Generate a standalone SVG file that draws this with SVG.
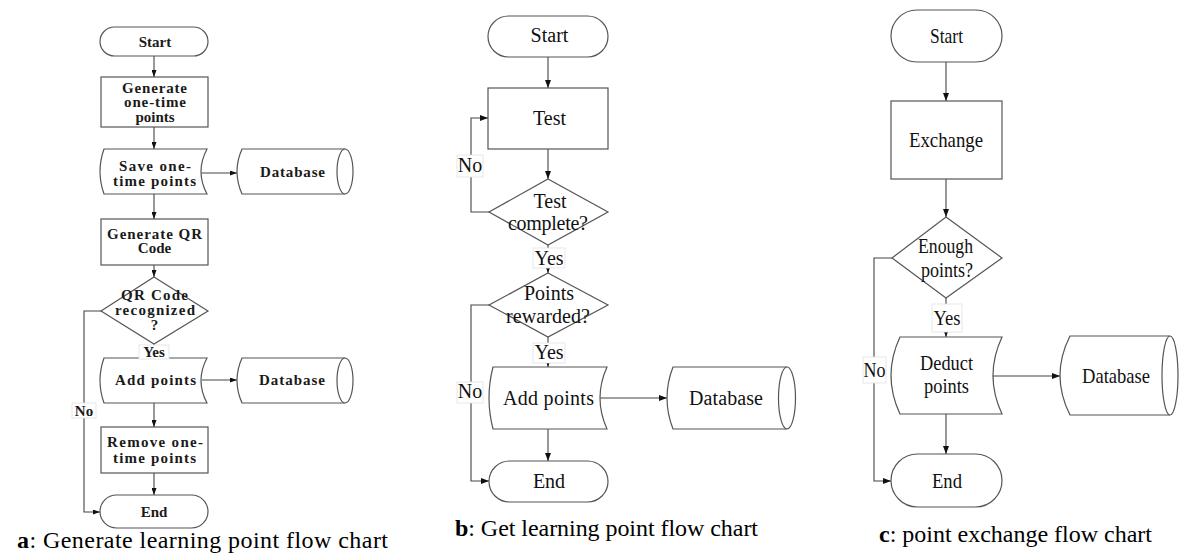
<svg xmlns="http://www.w3.org/2000/svg" width="1180" height="557" viewBox="0 0 1180 557">
<defs>
<style>
.shp{fill:#fff;stroke:#555;stroke-width:1.2}
.con{fill:none;stroke:#444;stroke-width:1.1}
.lbl{fill:#fff;stroke:#e2e2e2;stroke-width:0.8}
text{font-family:'Liberation Serif','DejaVu Serif',serif}
.ta{font-weight:bold;font-size:15px;fill:#1a1a1a;text-anchor:middle}
.tb{font-size:20px;fill:#111;text-anchor:middle}
.tc{font-size:22px;fill:#111;text-anchor:middle}
.cap{font-size:24px;fill:#000}
</style>
<marker id="ah" viewBox="0 0 8 6" refX="8" refY="3" markerWidth="8" markerHeight="6" markerUnits="userSpaceOnUse" orient="auto"><path d="M0,0 L8,3 L0,6 Z" fill="#111"/></marker>
<marker id="ahs" viewBox="0 0 7 5" refX="7" refY="2.5" markerWidth="7" markerHeight="5" markerUnits="userSpaceOnUse" orient="auto"><path d="M0,0 L7,2.5 L0,5 Z" fill="#111"/></marker>
</defs>

<g id="connectors">
<path class="con" marker-end="url(#ahs)" d="M154,56 V77"/>
<path class="con" marker-end="url(#ahs)" d="M154,127 V149"/>
<path class="con" marker-end="url(#ahs)" d="M154,194 V219"/>
<path class="con" marker-end="url(#ahs)" d="M202,173 H237"/>
<path class="con" marker-end="url(#ahs)" d="M154,265 V277"/>
<path class="con" marker-end="url(#ahs)" d="M154,344 V358"/>
<path class="con" marker-end="url(#ahs)" d="M202,380 H237"/>
<path class="con" marker-end="url(#ahs)" d="M154,403 V427"/>
<path class="con" marker-end="url(#ahs)" d="M154,473 V495"/>
<path class="con" marker-end="url(#ahs)" d="M101,311 H84 V512 H100"/>

<path class="con" marker-end="url(#ah)" d="M548,57 V88"/>
<path class="con" marker-end="url(#ah)" d="M548,149 V179"/>
<path class="con" marker-end="url(#ah)" d="M489,212 H471 V118 H488"/>
<path class="con" marker-end="url(#ah)" d="M548,245 V273"/>
<path class="con" marker-end="url(#ah)" d="M548,337 V367"/>
<path class="con" marker-end="url(#ah)" d="M489,305 H471 V481 H489"/>
<path class="con" marker-end="url(#ah)" d="M600,398 H667"/>
<path class="con" marker-end="url(#ah)" d="M548,429 V461"/>

<path class="con" marker-end="url(#ah)" d="M946,62 V101"/>
<path class="con" marker-end="url(#ah)" d="M946,179 V217"/>
<path class="con" marker-end="url(#ah)" d="M946,298 V337"/>
<path class="con" marker-end="url(#ah)" d="M892,258 H874 V481 H891"/>
<path class="con" marker-end="url(#ah)" d="M993,376 H1060"/>
<path class="con" marker-end="url(#ah)" d="M946,414 V454"/>
</g>

<!-- Chart a -->
<g id="a-start"><rect class="shp" x="100" y="27" width="108" height="29" rx="14.5"/><text class="ta" x="155" y="47">Start</text></g>
<g id="a-generate"><rect class="shp" x="101" y="77" width="107" height="50"/><text class="ta" x="154.5" y="93" textLength="65">Generate</text><text class="ta" x="155" y="107" textLength="62">one-time</text><text class="ta" x="155" y="122">points</text></g>
<g id="a-save"><path class="shp" d="M104,149 L207,149 Q195,171.5 207,194 L104,194 Q96,171.5 104,149 Z"/><text class="ta" x="155" y="171" textLength="72">Save one-</text><text class="ta" x="154.5" y="186" textLength="83">time points</text></g>
<g id="a-db1"><path class="shp" d="M242,149 L345,149 A8,22.5 0 0 1 345,194 L242,194 Q232,171.5 242,149 Z"/><path class="shp" fill="none" d="M345,149 A8,22.5 0 0 0 345,194"/><text class="ta" x="292.5" y="177" textLength="65">Database</text></g>
<g id="a-qr"><rect class="shp" x="101" y="219" width="107" height="46"/><text class="ta" x="154.5" y="239" textLength="95">Generate QR</text><text class="ta" x="154.5" y="253">Code</text></g>
<g id="a-decision"><polygon class="shp" points="154,277 208,311 154,344 101,311"/><text class="ta" x="154.5" y="300" textLength="67">QR Code</text><text class="ta" x="155" y="315" textLength="80">recognized</text><text class="ta" x="154.5" y="330">?</text></g>
<g id="a-add"><path class="shp" d="M104,358 L207,358 Q195,380.5 207,403 L104,403 Q96,380.5 104,358 Z"/><text class="ta" x="155.5" y="385" textLength="81">Add points</text></g>
<g id="a-db2"><path class="shp" d="M242,358 L345,358 A8,22.5 0 0 1 345,403 L242,403 Q232,380.5 242,358 Z"/><path class="shp" fill="none" d="M345,358 A8,22.5 0 0 0 345,403"/><text class="ta" x="292" y="385" textLength="66">Database</text></g>
<g id="a-remove"><rect class="shp" x="101" y="427" width="107" height="46"/><text class="ta" x="155" y="447" textLength="96">Remove one-</text><text class="ta" x="154.5" y="463" textLength="83">time points</text></g>
<g id="a-end"><rect class="shp" x="100" y="495" width="108" height="33" rx="16.5"/><text class="ta" x="154" y="517">End</text></g>
<g id="a-labels"><rect class="lbl" x="139" y="345" width="30" height="14"/><text class="ta" x="154" y="357">Yes</text><rect class="lbl" x="72" y="403" width="24" height="15"/><text class="ta" x="84" y="416">No</text></g>

<!-- Chart b -->
<g id="b-start"><rect class="shp" x="488" y="16" width="120" height="41" rx="20.5"/><text class="tb" x="549.5" y="42">Start</text></g>
<g id="b-test"><rect class="shp" x="488" y="88" width="120" height="61"/><text class="tb" x="549.5" y="125">Test</text></g>
<g id="b-complete"><polygon class="shp" points="548,179 608,212 548,245 489,212"/><text class="tb" x="550" y="208">Test</text><text class="tb" x="548" y="230" textLength="80">complete?</text></g>
<g id="b-rewarded"><polygon class="shp" points="548,273 608,305 548,337 489,305"/><text class="tb" x="549" y="300">Points</text><text class="tb" x="548" y="323" textLength="84">rewarded?</text></g>
<g id="b-add"><path class="shp" d="M493,367 L607,367 Q593,398 607,429 L493,429 Q485,398 493,367 Z"/><text class="tb" x="548.5" y="405" textLength="91">Add points</text></g>
<g id="b-db"><path class="shp" d="M673,367 L787,367 A8.5,31 0 0 1 787,429 L673,429 Q661,398 673,367 Z"/><path class="shp" fill="none" d="M787,367 A8.5,31 0 0 0 787,429"/><text class="tb" x="726" y="405" textLength="74">Database</text></g>
<g id="b-end"><rect class="shp" x="489" y="461" width="119" height="41" rx="20.5"/><text class="tb" x="549" y="488">End</text></g>
<g id="b-labels"><rect class="lbl" x="457" y="155" width="26" height="22"/><text class="tb" x="470" y="172">No</text><rect class="lbl" x="533" y="248" width="32" height="20"/><text class="tb" x="549" y="265">Yes</text><rect class="lbl" x="533" y="343" width="32" height="20"/><text class="tb" x="549" y="359">Yes</text><rect class="lbl" x="457" y="382" width="26" height="21"/><text class="tb" x="470" y="398">No</text></g>

<!-- Chart c -->
<g id="c-start"><rect class="shp" x="891" y="10" width="111" height="52" rx="26"/><text class="tc" x="946.5" y="43" textLength="33" lengthAdjust="spacingAndGlyphs">Start</text></g>
<g id="c-exchange"><rect class="shp" x="891" y="101" width="111" height="78"/><text class="tc" x="946" y="147" textLength="74" lengthAdjust="spacingAndGlyphs">Exchange</text></g>
<g id="c-enough"><polygon class="shp" points="946,217 1002,258 946,298 892,258"/><text class="tc" x="945.5" y="253" textLength="55" lengthAdjust="spacingAndGlyphs">Enough</text><text class="tc" x="947" y="277" textLength="52" lengthAdjust="spacingAndGlyphs">points?</text></g>
<g id="c-deduct"><path class="shp" d="M900,337 L1002,337 Q984,375.5 1002,414 L900,414 Q882,375.5 900,337 Z"/><text class="tc" x="946.5" y="370" textLength="53" lengthAdjust="spacingAndGlyphs">Deduct</text><text class="tc" x="946.5" y="393" textLength="45" lengthAdjust="spacingAndGlyphs">points</text></g>
<g id="c-db"><path class="shp" d="M1070,336 L1170,336 A8,39.5 0 0 1 1170,415 L1070,415 Q1050,375.5 1070,336 Z"/><path class="shp" fill="none" d="M1170,336 A8,39.5 0 0 0 1170,415"/><text class="tc" x="1116" y="383" textLength="68" lengthAdjust="spacingAndGlyphs">Database</text></g>
<g id="c-end"><rect class="shp" x="891" y="454" width="111" height="53" rx="26.5"/><text class="tc" x="947" y="488" textLength="30" lengthAdjust="spacingAndGlyphs">End</text></g>
<g id="c-labels"><rect class="lbl" x="932" y="304" width="30" height="28"/><text class="tc" x="947" y="325" textLength="27" lengthAdjust="spacingAndGlyphs">Yes</text><rect class="lbl" x="863" y="357" width="23" height="26"/><text class="tc" x="874.5" y="377" textLength="22" lengthAdjust="spacingAndGlyphs">No</text></g>

<!-- Captions -->
<g id="captions">
<text class="cap" x="17" y="548" textLength="371"><tspan font-weight="bold">a</tspan>: Generate learning point flow chart</text>
<text class="cap" x="455" y="536" textLength="303"><tspan font-weight="bold">b</tspan>: Get learning point flow chart</text>
<text class="cap" x="879" y="542" textLength="273"><tspan font-weight="bold">c</tspan>: point exchange flow chart</text>
</g>
</svg>
